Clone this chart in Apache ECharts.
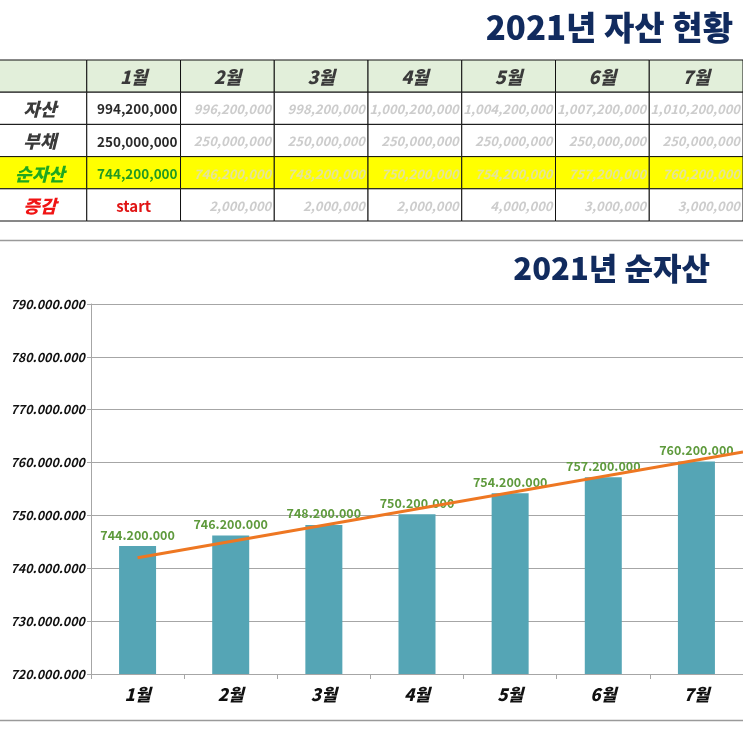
<!DOCTYPE html>
<html>
<head>
<meta charset="utf-8">
<script src="https://cdn.jsdelivr.net/npm/echarts@6/dist/echarts.min.js"></script>
<style>
html,body{margin:0;padding:0;background:#fff;}
#main{width:743px;height:743px;}
</style>
</head>
<body>
<div id="main"></div>
<script>
// ---- data ----
const months = ['1월','2월','3월','4월','5월','6월','7월'];
const rowLabels = ['자산','부채','순자산','증감'];
const assets = [994200000, 996200000, 998200000, 1000200000, 1004200000, 1007200000, 1010200000];
const liabilities = [250000000, 250000000, 250000000, 250000000, 250000000, 250000000, 250000000];
const netAssets = [744200000, 746200000, 748200000, 750200000, 754200000, 757200000, 760200000];
const changes = ['start', 2000000, 2000000, 2000000, 4000000, 3000000, 3000000];
const yTicks = [720000000, 730000000, 740000000, 750000000, 760000000, 770000000, 780000000, 790000000];
// trendline (x in month units, 1 = 1월)
const trendX = [1, 7.5];
const trendY = [742000000, 762000000];

// ---- helpers ----
const comma = v => typeof v === 'number' ? v.toLocaleString('en-US') : v;
const dots = v => v.toLocaleString('en-US').replace(/,/g, '.');

// build table cells: [col, row]
const tableCols = [''].concat(months);
const tableRows = ['head'].concat(rowLabels);
const rowValues = [assets, liabilities, netAssets, changes];
const cells = [];
tableCols.forEach((c, ci) => {
  tableRows.forEach((r, ri) => {
    let text = '';
    if (ri === 0) text = c;
    else if (ci === 0) text = rowLabels[ri - 1];
    else text = comma(rowValues[ri - 1][ci - 1]);
    cells.push({ col: ci, row: ri, text: text });
  });
});

const FONT = '"Noto Sans CJK KR", "Noto Sans", sans-serif';

function cellStyle(cell) {
  const { col, row } = cell;
  let fill = '#ffffff';
  if (row === 0) fill = '#e2efda';
  else if (row === 3) fill = '#ffff00';
  let color = '#333333', font = 'bold 13px ' + FONT, align = 'right';
  if (row === 0) { color = '#3a3a3a'; font = 'italic 900 18px ' + FONT; align = 'center'; }
  else if (col === 0) {
    align = 'center';
    font = 'italic 900 18px ' + FONT;
    color = row === 3 ? '#1fa81f' : (row === 4 ? '#f01414' : '#3a3a3a');
  } else if (col === 1) {
    font = 'bold 13.5px ' + FONT;
    if (row === 3) color = '#229a22';
    else if (row === 4) { color = '#e01414'; align = 'center'; font = 'bold 15px ' + FONT; }
    else color = '#2a2a2a';
  } else {
    font = 'italic bold 13px ' + FONT;
    color = row === 3 ? '#e4e49a' : '#cccccc';
  }
  return { fill, color, font, align };
}

const chart = echarts.init(document.getElementById('main'), null, { renderer: 'canvas' });

const option = {
  backgroundColor: '#ffffff',
  animation: false,
  title: [
    { text: '2021년 자산 현황', right: 5, top: 6,
      textStyle: { fontFamily: FONT, fontWeight: 900, fontSize: 33, color: '#112b5e' } },
    { text: '2021년 순자산', right: 28, top: 248,
      textStyle: { fontFamily: FONT, fontWeight: 900, fontSize: 31, color: '#112b5e' } }
  ],
  graphic: [
    { type: 'line', shape: { x1: 0, y1: 240.5, x2: 743, y2: 240.5 }, style: { stroke: '#9a9a9a', lineWidth: 1.5 } },
    { type: 'line', shape: { x1: 0, y1: 720.5, x2: 743, y2: 720.5 }, style: { stroke: '#9a9a9a', lineWidth: 1.5 } }
  ],
  grid: [
    { left: 0, top: 60, width: 747, height: 161 },
    { left: 91, top: 304, width: 654, height: 370 }
  ],
  xAxis: [
    { gridIndex: 0, type: 'value', min: -0.4257, max: 7.5, show: false },
    { gridIndex: 1, type: 'category', data: months,
      axisLine: { lineStyle: { color: '#a6a6a6', width: 1 } },
      axisTick: { show: true, length: 5, lineStyle: { color: '#a6a6a6' } },
      axisLabel: { margin: 12, color: '#111', fontFamily: FONT, fontWeight: 900, fontSize: 17, fontStyle: 'italic' } },
    { gridIndex: 1, type: 'value', min: 0.5, max: 7.5, show: false }
  ],
  yAxis: [
    { gridIndex: 0, type: 'category', data: tableRows, inverse: true, show: false },
    { gridIndex: 1, type: 'value', min: yTicks[0], max: yTicks[yTicks.length - 1], interval: yTicks[1] - yTicks[0],
      axisLine: { show: true, lineStyle: { color: '#a6a6a6', width: 1 } },
      axisTick: { show: true, length: 4, lineStyle: { color: '#a6a6a6' } },
      splitLine: { lineStyle: { color: '#a6a6a6', width: 1 } },
      axisLabel: { margin: 6, color: '#111', fontFamily: FONT, fontWeight: 'bold', fontStyle: 'italic', fontSize: 12.5,
        formatter: v => dots(v) } }
  ],
  series: [
    {
      type: 'custom', xAxisIndex: 0, yAxisIndex: 0, clip: false,
      data: cells.map(c => [c.col, c.row]),
      renderItem: function (params, api) {
        const cell = cells[params.dataIndex];
        const c = api.coord([api.value(0), api.value(1)]);
        const s = api.size([1, 1]);
        const st = cellStyle(cell);
        const x0 = c[0] - s[0] / 2, y0 = c[1] - s[1] / 2;
        let tx = c[0];
        if (st.align === 'right') tx = x0 + s[0] - 3;
        return {
          type: 'group',
          children: [
            { type: 'rect', shape: { x: x0, y: y0, width: s[0], height: s[1] },
              style: { fill: st.fill, stroke: '#111', lineWidth: 1 } },
            { type: 'text', style: { text: cell.text, x: tx, y: c[1] + 1, align: st.align, verticalAlign: 'middle',
              font: st.font, fill: st.color } }
          ]
        };
      }
    },
    {
      type: 'bar', xAxisIndex: 1, yAxisIndex: 1,
      data: netAssets,
      barWidth: 37,
      itemStyle: { color: '#55a5b5' },
      label: { show: true, position: 'top', distance: 5, color: '#5e9a3c', fontFamily: FONT,
        fontWeight: 'bold', fontSize: 12.5, formatter: p => dots(p.value) }
    },
    {
      type: 'line', xAxisIndex: 2, yAxisIndex: 1,
      data: trendX.map((x, i) => [x, trendY[i]]),
      symbol: 'none',
      lineStyle: { color: '#ee7722', width: 3 },
      clip: false,
      z: 5
    }
  ]
};
chart.setOption(option);
</script>
</body>
</html>
